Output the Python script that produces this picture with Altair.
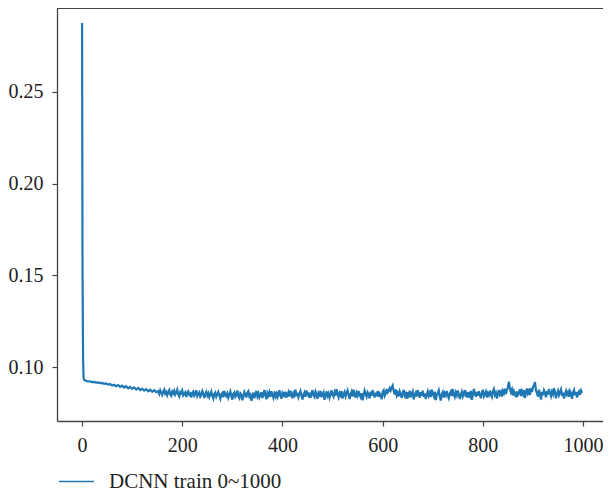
import altair as alt
import pandas as pd

# epochs sampled from the curve: sparse at the start, dense afterwards
epochs = [0, 1, 2, 3, 4] + list(range(8, 152, 4)) + list(range(152, 1000, 2))

loss_start = [0.2876, 0.1500, 0.1050, 0.0945, 0.0930]
loss_8_48 = [0.0925, 0.0921, 0.0922, 0.0918, 0.0919, 0.0915, 0.0916, 0.0912, 0.0913, 0.0908, 0.0910]
loss_52_148 = [0.0904, 0.0907, 0.0899, 0.0903, 0.0895, 0.0901, 0.0892, 0.0898, 0.0888, 0.0895,
               0.0884, 0.0891, 0.0881, 0.0889, 0.0877, 0.0886, 0.0874, 0.0882, 0.0871, 0.0879,
               0.0868, 0.0876, 0.0865, 0.0873, 0.0863]
# from epoch 152 on, every 2 epochs, 10 values per row
loss_152_250 = [0.0868, 0.0853, 0.0873, 0.0860, 0.0848, 0.0866, 0.0877, 0.0855, 0.0864, 0.0846,
                0.0862, 0.0874, 0.0851, 0.0843, 0.0866, 0.0856, 0.0870, 0.0849, 0.0859, 0.0876,
                0.0850, 0.0839, 0.0863, 0.0857, 0.0871, 0.0845, 0.0854, 0.0862, 0.0836, 0.0860,
                0.0868, 0.0849, 0.0855, 0.0834, 0.0858, 0.0866, 0.0843, 0.0852, 0.0873, 0.0841,
                0.0853, 0.0862, 0.0838, 0.0847, 0.0869, 0.0855, 0.0831, 0.0850, 0.0864, 0.0844]
loss_252_450 = [0.0857, 0.0836, 0.0851, 0.0866, 0.0843, 0.0828, 0.0853, 0.0861, 0.0838, 0.0849,
                0.0864, 0.0845, 0.0827, 0.0851, 0.0858, 0.0835, 0.0869, 0.0847, 0.0840, 0.0856,
                0.0833, 0.0850, 0.0866, 0.0842, 0.0822, 0.0855, 0.0862, 0.0837, 0.0846, 0.0872,
                0.0841, 0.0830, 0.0857, 0.0850, 0.0819, 0.0838, 0.0864, 0.0853, 0.0834, 0.0859,
                0.0868, 0.0839, 0.0848, 0.0816, 0.0843, 0.0860, 0.0829, 0.0852, 0.0870, 0.0840,
                0.0856, 0.0834, 0.0847, 0.0863, 0.0831, 0.0852, 0.0875, 0.0845, 0.0824, 0.0858,
                0.0844, 0.0862, 0.0838, 0.0868, 0.0850, 0.0832, 0.0855, 0.0841, 0.0866, 0.0836,
                0.0849, 0.0873, 0.0843, 0.0827, 0.0858, 0.0848, 0.0865, 0.0833, 0.0854, 0.0845,
                0.0862, 0.0839, 0.0871, 0.0850, 0.0830, 0.0857, 0.0846, 0.0877, 0.0841, 0.0860,
                0.0835, 0.0853, 0.0868, 0.0844, 0.0823, 0.0849, 0.0861, 0.0838, 0.0872, 0.0852]
loss_452_650 = [0.0843, 0.0860, 0.0831, 0.0855, 0.0874, 0.0846, 0.0837, 0.0866, 0.0851, 0.0826,
                0.0858, 0.0848, 0.0870, 0.0836, 0.0852, 0.0863, 0.0821, 0.0845, 0.0867, 0.0842,
                0.0856, 0.0832, 0.0850, 0.0873, 0.0849, 0.0838, 0.0862, 0.0844, 0.0879, 0.0854,
                0.0835, 0.0858, 0.0846, 0.0869, 0.0828, 0.0850, 0.0864, 0.0840, 0.0857, 0.0872,
                0.0848, 0.0825, 0.0853, 0.0866, 0.0839, 0.0876, 0.0851, 0.0833, 0.0860, 0.0844,
                0.0869, 0.0849, 0.0836, 0.0857, 0.0818, 0.0845, 0.0871, 0.0854, 0.0838, 0.0862,
                0.0850, 0.0829, 0.0866, 0.0843, 0.0874, 0.0852, 0.0834, 0.0860, 0.0841, 0.0870,
                0.0837, 0.0856, 0.0847, 0.0824, 0.0864, 0.0873, 0.0842, 0.0853, 0.0880, 0.0861,
                0.0868, 0.0884, 0.0872, 0.0889, 0.0900, 0.0870, 0.0851, 0.0878, 0.0845, 0.0859,
                0.0840, 0.0867, 0.0852, 0.0831, 0.0858, 0.0875, 0.0844, 0.0855, 0.0827, 0.0863]
loss_652_850 = [0.0846, 0.0870, 0.0835, 0.0853, 0.0866, 0.0823, 0.0848, 0.0860, 0.0839, 0.0874,
                0.0851, 0.0832, 0.0862, 0.0844, 0.0871, 0.0838, 0.0856, 0.0826, 0.0849, 0.0867,
                0.0843, 0.0859, 0.0836, 0.0877, 0.0853, 0.0840, 0.0865, 0.0820, 0.0847, 0.0858,
                0.0873, 0.0839, 0.0817, 0.0851, 0.0863, 0.0834, 0.0857, 0.0845, 0.0869, 0.0848,
                0.0831, 0.0855, 0.0866, 0.0842, 0.0879, 0.0850, 0.0836, 0.0861, 0.0846, 0.0872,
                0.0852, 0.0826, 0.0848, 0.0865, 0.0840, 0.0858, 0.0874, 0.0837, 0.0853, 0.0833,
                0.0862, 0.0845, 0.0870, 0.0821, 0.0849, 0.0881, 0.0856, 0.0838, 0.0864, 0.0843,
                0.0868, 0.0847, 0.0830, 0.0859, 0.0876, 0.0841, 0.0853, 0.0866, 0.0834, 0.0857,
                0.0846, 0.0871, 0.0852, 0.0837, 0.0867, 0.0880, 0.0849, 0.0860, 0.0828, 0.0855,
                0.0874, 0.0850, 0.0863, 0.0839, 0.0869, 0.0857, 0.0882, 0.0852, 0.0876, 0.0888]
loss_852_998 = [0.0920, 0.0882, 0.0862, 0.0877, 0.0845, 0.0869, 0.0855, 0.0836, 0.0866, 0.0848,
                0.0860, 0.0879, 0.0842, 0.0868, 0.0853, 0.0874, 0.0831, 0.0862, 0.0883, 0.0856,
                0.0870, 0.0848, 0.0885, 0.0864, 0.0891, 0.0899, 0.0918, 0.0871, 0.0857, 0.0838,
                0.0876, 0.0853, 0.0822, 0.0864, 0.0846, 0.0873, 0.0859, 0.0835, 0.0868, 0.0850,
                0.0880, 0.0858, 0.0841, 0.0866, 0.0852, 0.0884, 0.0861, 0.0829, 0.0855, 0.0871,
                0.0847, 0.0865, 0.0878, 0.0843, 0.0860, 0.0828, 0.0853, 0.0870, 0.0849, 0.0862,
                0.0838, 0.0869, 0.0856, 0.0826, 0.0861, 0.0875, 0.0846, 0.0864, 0.0833, 0.0858,
                0.0867, 0.0848, 0.0872, 0.0859]

loss = (loss_start + loss_8_48 + loss_52_148 + loss_152_250 + loss_252_450
        + loss_452_650 + loss_652_850 + loss_852_998)

x_ticks = [0, 200, 400, 600, 800, 1000]
y_ticks = [0.10, 0.15, 0.20, 0.25]
series_name = "DCNN train 0~1000"

df = pd.DataFrame({"epoch": epochs, "loss": loss, "series": series_name})

FONT = "Liberation Serif"
FRAME = "#444"
W, H = 546, 413

line = alt.Chart(df).mark_line(strokeWidth=2.2, clip=True).encode(
    x=alt.X("epoch:Q",
            scale=alt.Scale(domain=[-50, 1039.8], nice=False, zero=False),
            axis=alt.Axis(values=x_ticks, title=None, format="d", grid=False,
                          domain=True, domainColor=FRAME, domainWidth=1.3,
                          tickSize=5, tickColor=FRAME, tickWidth=1.2,
                          labelFont=FONT, labelFontSize=20, labelColor="#222",
                          labelPadding=9)),
    y=alt.Y("loss:Q",
            scale=alt.Scale(domain=[0.07055, 0.2958], nice=False, zero=False),
            axis=alt.Axis(values=y_ticks, title=None, format=".2f", grid=False,
                          domain=True, domainColor=FRAME, domainWidth=1.3,
                          tickSize=5, tickColor=FRAME, tickWidth=1.2,
                          labelFont=FONT, labelFontSize=20, labelColor="#222",
                          labelPadding=9)),
    color=alt.Color("series:N",
                    scale=alt.Scale(range=["#1f77b4"]),
                    legend=alt.Legend(title=None, orient="none", legendX=1, legendY=455,
                                      symbolType="stroke", symbolSize=1225,
                                      symbolStrokeWidth=1.5, padding=0,
                                      labelFont=FONT, labelFontSize=21, labelLimit=0,
                                      labelColor="#222", labelOffset=14)),
)

top_border = alt.Chart(df).mark_rule(color=FRAME, strokeWidth=1.3).encode(
    x=alt.value(0), x2=alt.value(W), y=alt.value(0)
)

chart = alt.layer(line, top_border).properties(
    width=W, height=H,
    autosize=alt.AutoSizeParams(type="none"),
    padding={"top": 0, "left": 49, "right": 0, "bottom": 74},
).configure_view(stroke=None)

chart.save("out.html", embed_options={"renderer": "svg", "actions": False})
